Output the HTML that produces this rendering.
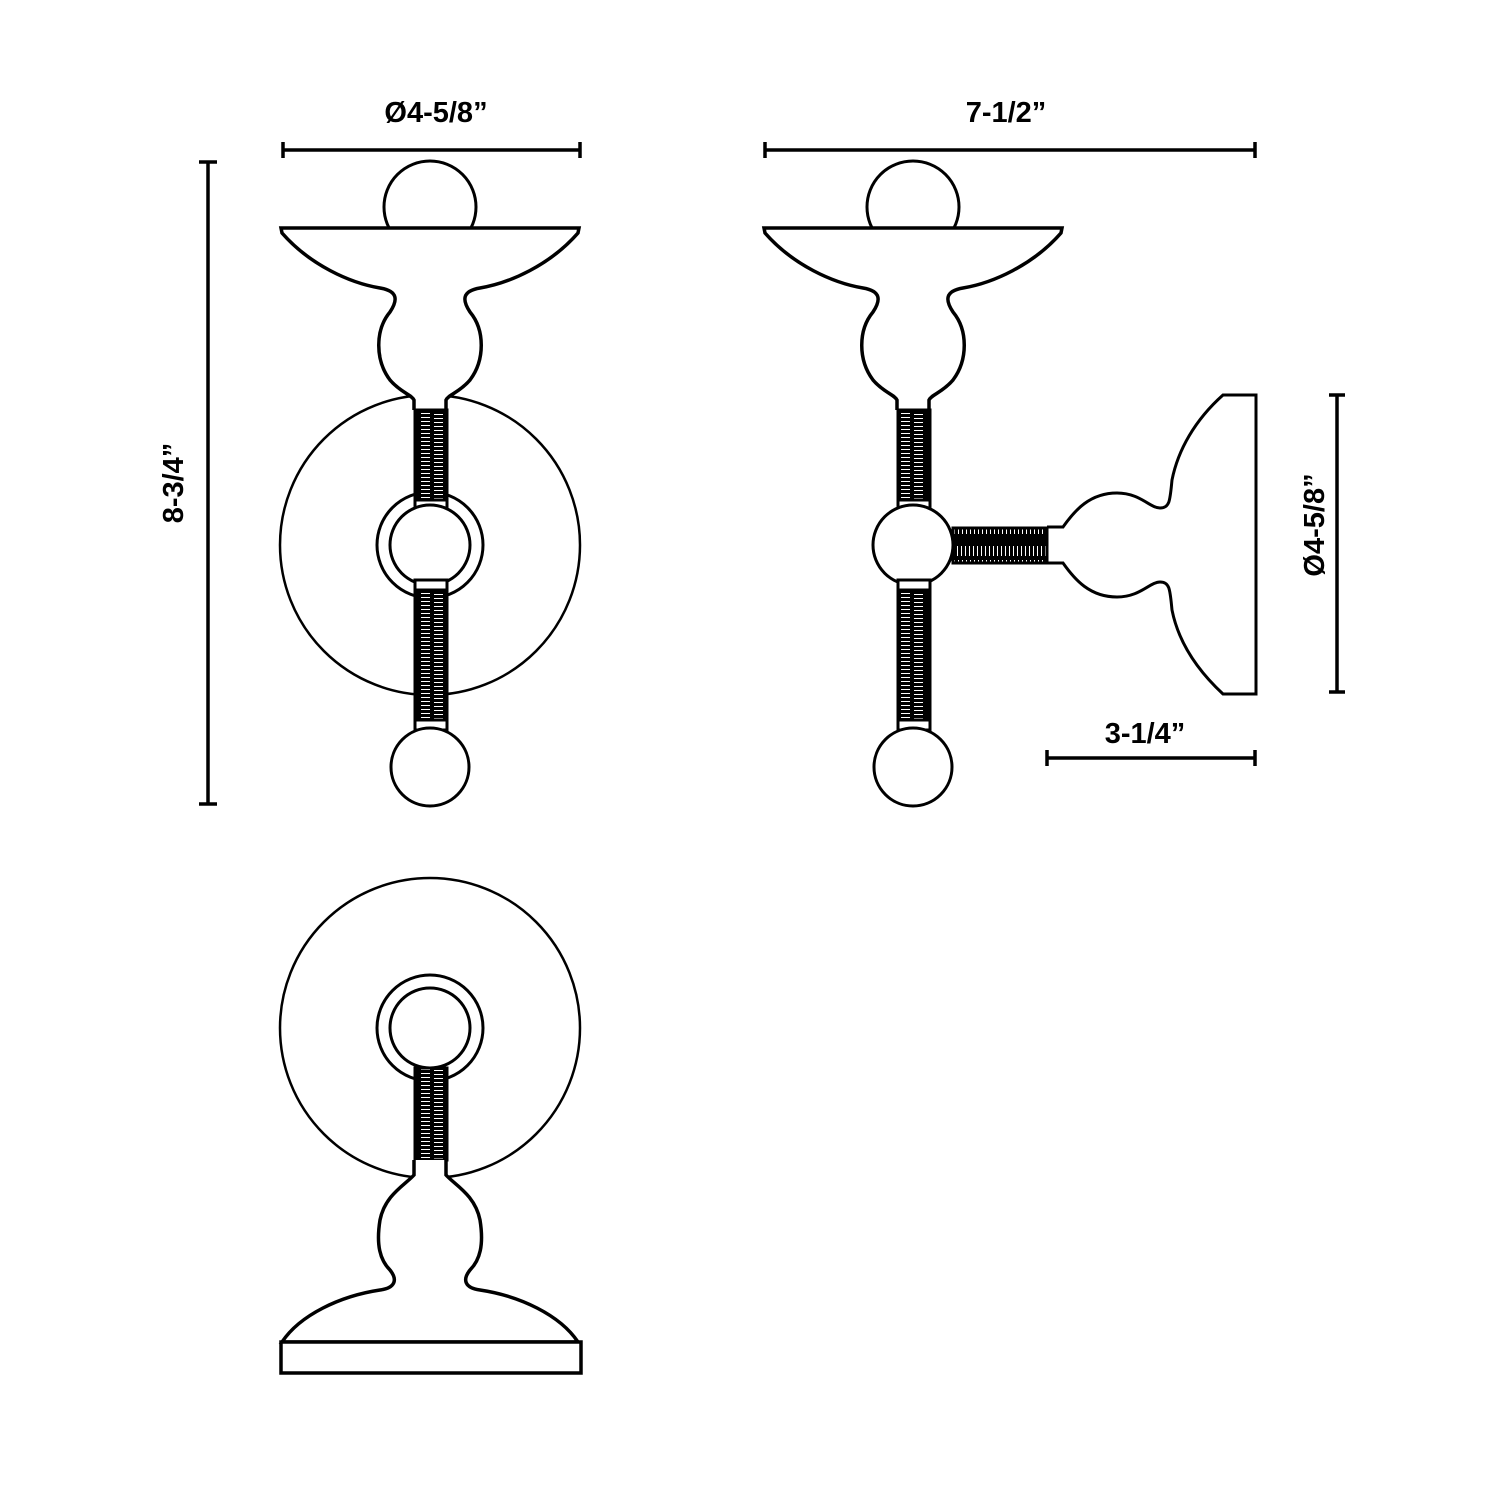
<!DOCTYPE html>
<html><head><meta charset="utf-8"><style>
html,body{margin:0;padding:0;background:#fff;}
svg{display:block;}
text{font-family:"Liberation Sans",Arial,sans-serif;font-weight:bold;font-size:29px;fill:#000;}
</style></head><body>
<svg width="1500" height="1500" viewBox="0 0 1500 1500" xmlns="http://www.w3.org/2000/svg">
<defs>
<pattern id="thr" width="32" height="4" patternUnits="userSpaceOnUse">
<rect width="32" height="4" fill="#000"/>
<rect x="5" y="1" width="9" height="1" fill="#fff"/>
<rect x="18" y="2" width="9" height="1" fill="#fff"/>
</pattern>
<pattern id="thrH" width="4" height="36" patternUnits="userSpaceOnUse">
<rect width="4" height="36" fill="#000"/>
<rect x="1" y="6" width="1" height="10" fill="#fff"/>
<rect x="2" y="20" width="1" height="10" fill="#fff"/>
</pattern>
<g id="shade">
<path d="M 414,410 L 414,400 C 412,395 400,392 390,380 C 375,360 375,330 390,312 C 398,300 398,291 380,288 C 350,283 310,265 282,233 L 281,228 L 579,228 L 578,233 C 550,265 510,283 480,288 C 462,291 462,300 470,312 C 485,330 485,360 470,380 C 460,392 448,395 446,400 L 446,410" fill="#fff" stroke="#000" stroke-width="3.5"/>
</g>
</defs>
<g fill="none" stroke="#000" stroke-width="3.5">
<!-- dimension lines -->
<line x1="283" y1="150" x2="580" y2="150"/><line x1="283" y1="142" x2="283" y2="158"/><line x1="580" y1="142" x2="580" y2="158"/>
<line x1="765" y1="150" x2="1255" y2="150"/><line x1="765" y1="142" x2="765" y2="158"/><line x1="1255" y1="142" x2="1255" y2="158"/>
<line x1="208" y1="162" x2="208" y2="804"/><line x1="199" y1="162" x2="217" y2="162"/><line x1="199" y1="804" x2="217" y2="804"/>
<line x1="1337" y1="395" x2="1337" y2="692"/><line x1="1329" y1="395" x2="1345" y2="395"/><line x1="1329" y1="692" x2="1345" y2="692"/>
<line x1="1047" y1="758" x2="1255" y2="758"/><line x1="1047" y1="750" x2="1047" y2="766"/><line x1="1255" y1="750" x2="1255" y2="766"/>
</g>
<text x="436" y="122" text-anchor="middle">Ø4-5/8”</text>
<text x="1006" y="122" text-anchor="middle">7-1/2”</text>
<text x="1145" y="743" text-anchor="middle">3-1/4”</text>
<text transform="translate(183,483) rotate(-90)" text-anchor="middle">8-3/4”</text>
<text transform="translate(1324,525) rotate(-90)" text-anchor="middle">Ø4-5/8”</text>

<!-- FRONT VIEW -->
<g stroke="#000" stroke-width="3" fill="#fff">
<circle cx="430" cy="545" r="150" stroke-width="2.5"/>
<circle cx="430" cy="545" r="53"/>
<circle cx="430" cy="207" r="46"/>
</g>
<use href="#shade"/>
<g stroke="#000" stroke-width="3">
<rect x="415" y="410" width="32" height="90" fill="url(#thr)"/>
<rect x="415" y="500" width="32" height="10" fill="#fff"/>
<circle cx="430" cy="545" r="40" fill="#fff"/>
<rect x="415" y="580" width="32" height="10" fill="#fff"/>
<rect x="415" y="590" width="32" height="130" fill="url(#thr)"/>
<rect x="415" y="720" width="32" height="10" fill="#fff"/>
<circle cx="430" cy="767" r="39" fill="#fff"/>
</g>

<!-- SIDE VIEW -->
<circle cx="913" cy="207" r="46" fill="#fff" stroke="#000" stroke-width="3"/>
<use href="#shade" transform="translate(483,0)"/>
<g stroke="#000" stroke-width="3">
<path d="M 1047,527 L 1063,527 C 1075,510 1090,493 1117,493 C 1140,493 1150,508 1160,508 C 1170,508 1170,500 1172,480 C 1178,450 1195,420 1223,395 L 1256,395 L 1256,694 L 1223,694 C 1195,668 1178,640 1172,610 C 1170,590 1170,582 1160,582 C 1150,582 1140,597 1117,597 C 1090,597 1075,580 1063,563 L 1047,563" fill="#fff"/>
<rect x="953" y="528" width="94" height="35" fill="url(#thrH)"/>
<rect x="898" y="410" width="32" height="90" fill="url(#thr)"/>
<rect x="898" y="500" width="32" height="10" fill="#fff"/>
<circle cx="913" cy="545" r="40" fill="#fff"/>
<rect x="898" y="580" width="32" height="10" fill="#fff"/>
<rect x="898" y="590" width="32" height="130" fill="url(#thr)"/>
<rect x="898" y="720" width="32" height="10" fill="#fff"/>
<circle cx="913" cy="767" r="39" fill="#fff"/>
</g>

<!-- BOTTOM VIEW -->
<g stroke="#000" stroke-width="3" fill="#fff">
<circle cx="430" cy="1028" r="150" stroke-width="2.5"/>
<circle cx="430" cy="1028" r="53"/>
<circle cx="430" cy="1028" r="40"/>
<rect x="415" y="1068" width="32" height="92" fill="url(#thr)"/>
<path d="M 414,1160 L 414,1175 C 405,1185 385,1195 380,1220 C 376,1245 380,1260 390,1270 C 398,1280 395,1288 380,1290 C 340,1296 300,1315 282,1342 L 578,1342 C 560,1315 520,1296 480,1290 C 465,1288 462,1280 470,1270 C 480,1260 484,1245 480,1220 C 475,1195 455,1185 446,1175 L 446,1160" stroke-width="3.5"/>
<rect x="281" y="1342" width="300" height="31" stroke-width="3.5"/>
</g>
</svg>
</body></html>
